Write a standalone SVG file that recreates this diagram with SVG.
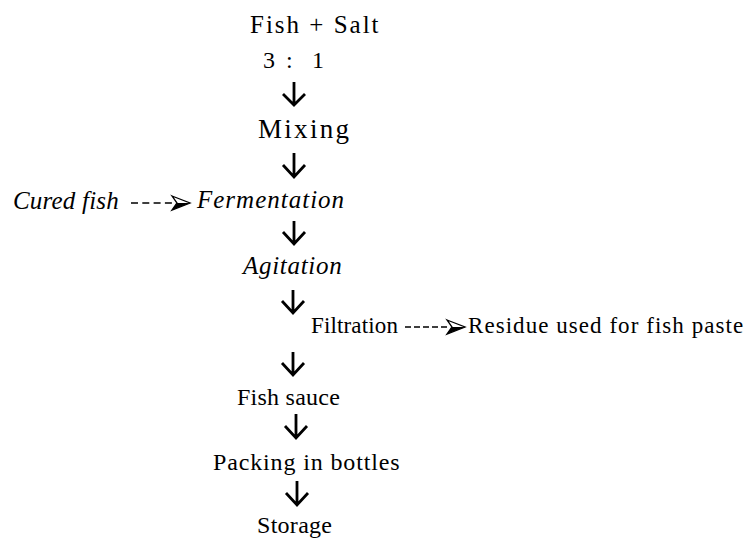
<svg xmlns="http://www.w3.org/2000/svg" width="746" height="538" viewBox="0 0 746 538">
<style>
text{font-family:'Liberation Serif','Times New Roman',serif;fill:#000}
.n{font-size:24px}
.it{font-style:italic;font-size:25px}
.f{font-size:23px}
.arr{fill:none;stroke:#000;stroke-width:2.8;stroke-linecap:butt;stroke-linejoin:miter}
.dash{fill:none;stroke:#000;stroke-width:1.4}
</style>
<defs>
<marker id="head" markerUnits="userSpaceOnUse" markerWidth="20" markerHeight="16" refX="0" refY="7.5" orient="auto" overflow="visible">
<path d="M0,0.5 L18,7.5 L0,14.5 L5,7.5 Z" fill="#fff" stroke="#000" stroke-width="1.3" stroke-linejoin="miter"/>
<path d="M0,14.5 L18,7.5 L5,7.5 Z" fill="#000"/>
</marker>
</defs>
<rect width="746" height="538" fill="#fff"/>
<g id="connectors">
<path class="arr" d="M294,82 V105 M283,94 L294,105 L305,94"/>
<path class="arr" d="M294,153 V177 M283,165 L294,177 L305,165"/>
<path class="arr" d="M294,221 V244 M283,232 L294,244 L305,232"/>
<path class="arr" d="M293,290 V313 M282,301 L293,313 L304,301"/>
<path class="arr" d="M293,352 V375 M282,363 L293,375 L304,363"/>
<path class="arr" d="M296,414 V438 M285,426 L296,438 L307,426"/>
<path class="arr" d="M297,481 V505 M286,493 L297,505 L308,493"/>
<line class="dash" x1="131" y1="203" x2="172" y2="203" stroke-dasharray="7 4.3" marker-end="url(#head)"/>
<line class="dash" x1="405" y1="327" x2="447" y2="327" stroke-dasharray="6 3" marker-end="url(#head)"/>
</g>
<g id="fish-salt"><text x="250" y="33" style="font-size:25px;letter-spacing:2px">Fish + Salt</text></g>
<g id="ratio"><text y="68" class="n"><tspan x="263">3</tspan> <tspan x="286">:</tspan> <tspan x="312">1</tspan></text></g>
<g id="mixing"><text x="258" y="138" style="font-size:27px;letter-spacing:2.3px">Mixing</text></g>
<g id="cured-fish"><text class="it" x="13" y="209" style="letter-spacing:0.2px">Cured fish</text></g>
<g id="fermentation"><text class="it" x="197" y="208" style="letter-spacing:1px">Fermentation</text></g>
<g id="agitation"><text class="it" x="243" y="274" style="letter-spacing:0.7px">Agitation</text></g>
<g id="filtration"><text class="f" x="311" y="333" style="letter-spacing:0.15px">Filtration</text></g>
<g id="residue"><text class="f" x="468" y="333" style="letter-spacing:1.05px">Residue used for fish paste</text></g>
<g id="fish-sauce"><text class="n" x="237" y="405" style="letter-spacing:0.25px">Fish sauce</text></g>
<g id="packing"><text class="n" x="213" y="470" style="letter-spacing:0.86px">Packing in bottles</text></g>
<g id="storage"><text class="n" x="257" y="533" style="letter-spacing:0.28px">Storage</text></g>
</svg>
